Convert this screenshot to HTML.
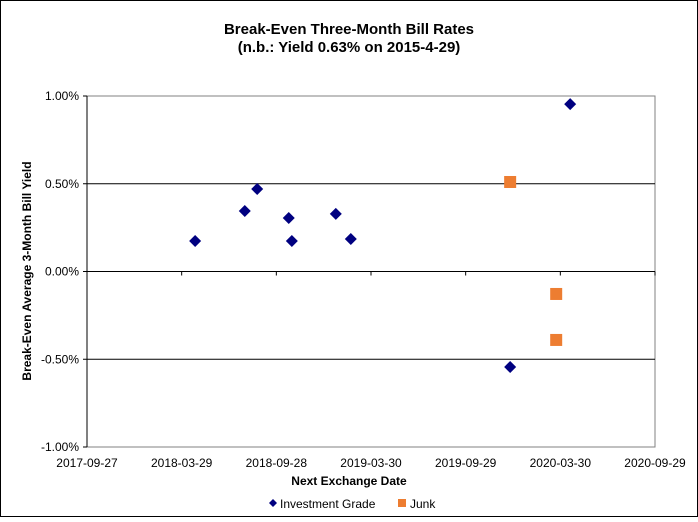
<!DOCTYPE html>
<html><head><meta charset="utf-8"><style>
body{margin:0;background:#fff;font-family:"Liberation Sans",Arial,sans-serif}
svg text{font-family:"Liberation Sans",Arial,sans-serif}
</style></head><body>
<svg id="c" width="698" height="517" viewBox="0 0 698 517">
<rect x="0.5" y="0.5" width="697" height="516" fill="#fff" stroke="#000"/>
<text x="349" y="34" text-anchor="middle" font-size="15" font-weight="bold">Break-Even Three-Month Bill Rates</text>
<text x="349" y="52" text-anchor="middle" font-size="15" font-weight="bold">(n.b.: Yield 0.63% on 2015-4-29)</text>
<g id="plot"></g>
<text x="349" y="485" text-anchor="middle" font-size="12" font-weight="bold">Next Exchange Date</text>
<text transform="translate(31,271) rotate(-90)" text-anchor="middle" font-size="12" font-weight="bold">Break-Even Average 3-Month Bill Yield</text>
<g>
<path d="M273 499 l4 4 l-4 4 l-4 -4z" fill="#000080"/>
<text x="280" y="508" font-size="12">Investment Grade</text>
<rect x="398" y="499" width="8" height="8" fill="#ed7d31"/>
<text x="410" y="508" font-size="12">Junk</text>
</g>
</svg>
<script>
const xTickLabels=["2017-09-27","2018-03-29","2018-09-28","2019-03-30","2019-09-29","2020-03-30","2020-09-29"];
const yTicks=[1,0.5,0,-0.5,-1];
const igDays=[209,305,329,390,396,481,510,818,934];
const igVals=[0.174,0.345,0.47,0.305,0.174,0.328,0.185,-0.544,0.954];
const junkDays=[818,907,907];
const junkVals=[0.51,-0.128,-0.39];
const NS="http://www.w3.org/2000/svg";
const L=87,R=655,T=96,B=447,D0=0,D1=1098;
const xs=d=>L+(d-D0)/(D1-D0)*(R-L);
const ys=v=>T+(1-v)/2*(B-T);
const g=document.getElementById('plot');
function mk(t,a){const e=document.createElementNS(NS,t);for(const k in a)e.setAttribute(k,a[k]);g.appendChild(e);return e;}
const pa=mk('rect',{x:L,y:T,width:R-L,height:B-T,fill:'#fff',stroke:'#808080'});


yTicks.forEach(v=>{
 const y=ys(v);
 if(v!==1&&v!==-1&&v!==0){const gl=mk('line',{x1:L,x2:R,y1:y,y2:y,stroke:'#000'});
 
 }
 const tk=mk('line',{x1:L-4,x2:L,y1:y,y2:y,stroke:'#000'});
 
 
 const t=mk('text',{x:L-8,y:y+4,'text-anchor':'end','font-size':12});
 t.textContent=v.toFixed(2)+'%';
 
 
});
const ya=mk('line',{x1:L,x2:L,y1:T,y2:B,stroke:'#000'});


const xa=mk('line',{x1:L,x2:R,y1:ys(0),y2:ys(0),stroke:'#000'});


xTickLabels.forEach((s,i)=>{
 const x=xs(D0+i*(D1-D0)/(xTickLabels.length-1));
 const tk=mk('line',{x1:x,x2:x,y1:ys(0),y2:ys(0)+4,stroke:'#000'});
 
 
 const t=mk('text',{x:x,y:467,'text-anchor':'middle','font-size':12});
 t.textContent=s;
 
 
});
igDays.forEach((d,i)=>{
 const x=xs(d),y=ys(igVals[i]);
 const p=mk('path',{d:`M${x} ${y-6} L${x+6} ${y} L${x} ${y+6} L${x-6} ${y}Z`,fill:'#000080'});
 
 
});
junkDays.forEach((d,i)=>{
 const x=xs(d),y=ys(junkVals[i]);
 const p=mk('rect',{x:x-6,y:y-6,width:12,height:12,fill:'#ed7d31'});
 
 
});
</script>
</body></html>
